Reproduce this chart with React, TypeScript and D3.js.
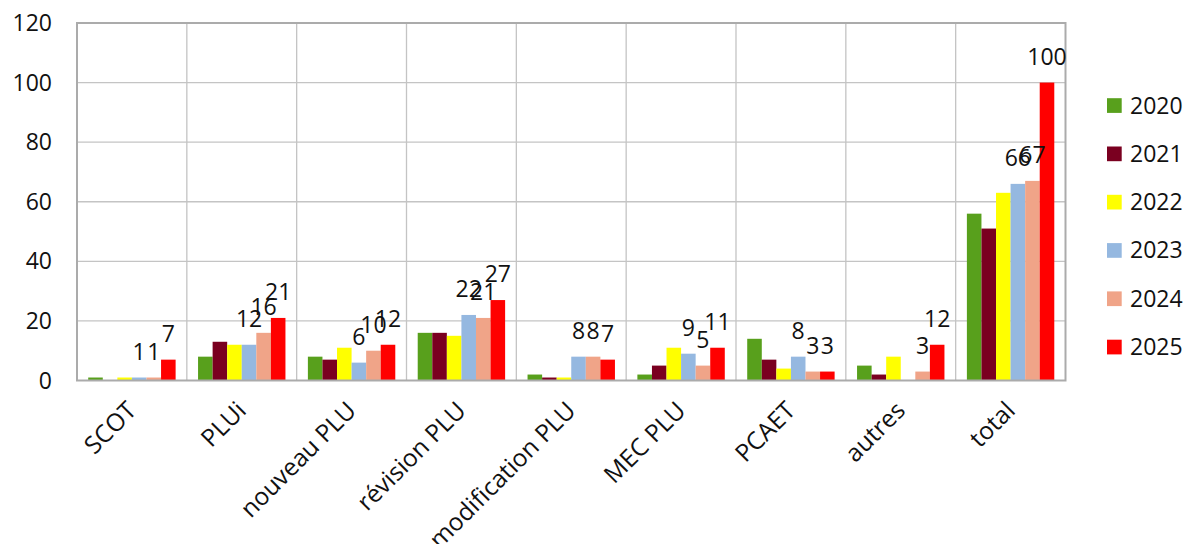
import { useEffect, useRef } from "react";
import * as d3 from "d3";

const categories = ["SCOT", "PLUi", "nouveau PLU", "révision PLU", "modification PLU", "MEC PLU", "PCAET", "autres", "total"];
const years = ["2020", "2021", "2022", "2023", "2024", "2025"];
const colors = ["#58a01c", "#7a0020", "#ffff00", "#95b8e0", "#f0a488", "#ff0000"];

const v2020 = [1, 8, 8, 16, 2, 2, 14, 5, 56];
const v2021 = [0, 13, 7, 16, 1, 5, 7, 2, 51];
const v2022 = [1, 12, 11, 15, 1, 11, 4, 8, 63];
const v2023 = [1, 12, 6, 22, 8, 9, 8, null, 66];
const v2024 = [1, 16, 10, 21, 8, 5, 3, 3, 67];
const v2025 = [7, 21, 12, 27, 7, 11, 3, 12, 100];

const labelledYears = ["2023", "2024", "2025"];
const yTicks = [0, 20, 40, 60, 80, 100, 120];

export default function App() {
  const ref = useRef<SVGSVGElement>(null);

  useEffect(() => {
    const series = [v2020, v2021, v2022, v2023, v2024, v2025];
    const W = 1189, H = 544;
    const plot = { left: 77, right: 1065.5, top: 23, bottom: 380.5 };
    const font = "'Open Sans', sans-serif";
    const fs = 23;

    const svg = d3.select(ref.current);
    svg.selectAll("*").remove();

    const x = d3.scaleBand().domain(categories).range([plot.left, plot.right]).padding(0);
    const xs = d3.scaleBand().domain(years).range([0, x.bandwidth()]).paddingInner(0).paddingOuter(0.77);
    const y = d3.scaleLinear().domain([0, 120]).range([plot.bottom, plot.top]);

    svg.append("rect").attr("width", W).attr("height", H).attr("fill", "#fff");

    // grid
    const grid = svg.append("g").attr("stroke", "#c4c4c4").attr("stroke-width", 1.3);
    yTicks.slice(1, -1).forEach(t => {
      grid.append("line").attr("x1", plot.left).attr("x2", plot.right).attr("y1", y(t)).attr("y2", y(t));
    });
    categories.slice(1).forEach(c => {
      const gx = x(c)!;
      grid.append("line").attr("x1", gx).attr("x2", gx).attr("y1", plot.top).attr("y2", plot.bottom);
    });

    // bars
    series.forEach((vals, si) => {
      svg.append("g")
        .selectAll("rect")
        .data(vals.map((v, i) => ({ v, c: categories[i] })).filter(d => d.v != null && d.v > 0))
        .enter()
        .append("rect")
        .attr("x", d => x(d.c)! + xs(years[si])!)
        .attr("width", xs.bandwidth())
        .attr("y", d => y(d.v as number))
        .attr("height", d => y(0) - y(d.v as number))
        .attr("fill", colors[si]);
    });

    // plot border
    svg.append("rect")
      .attr("x", plot.left).attr("y", plot.top)
      .attr("width", plot.right - plot.left).attr("height", plot.bottom - plot.top)
      .attr("fill", "none").attr("stroke", "#ababab").attr("stroke-width", 2);

    // data labels (2023-2025 only, as in the source chart)
    series.forEach((vals, si) => {
      if (!labelledYears.includes(years[si])) return;
      vals.forEach((v, i) => {
        if (v == null) return;
        svg.append("text")
          .attr("x", x(categories[i])! + xs(years[si])! + xs.bandwidth() / 2)
          .attr("y", y(v) - 18)
          .attr("text-anchor", "middle")
          .attr("font-family", font)
          .attr("font-size", fs)
          .attr("fill", "#111")
          .text(v);
      });
    });

    // y axis labels
    yTicks.forEach(t => {
      svg.append("text")
        .attr("x", 52).attr("y", y(t))
        .attr("dy", "0.35em")
        .attr("text-anchor", "end")
        .attr("font-family", font).attr("font-size", fs).attr("fill", "#111")
        .text(t);
    });

    // x axis labels
    categories.forEach(c => {
      const cx = x(c)! + x.bandwidth() / 2;
      svg.append("text")
        .attr("transform", `translate(${cx + 6},412) rotate(-45)`)
        .attr("text-anchor", "end")
        .attr("font-family", font).attr("font-size", 24.5).attr("fill", "#111")
        .text(c);
    });

    // legend
    const legend = svg.append("g").attr("transform", "translate(1107,105.5)");
    years.forEach((yr, i) => {
      const gy = i * 48.3;
      legend.append("rect").attr("x", 0).attr("y", gy - 7.3).attr("width", 14.7).attr("height", 14.7).attr("fill", colors[i]);
      legend.append("text")
        .attr("x", 23).attr("y", gy).attr("dy", "0.35em")
        .attr("font-family", font).attr("font-size", fs).attr("fill", "#111")
        .text(yr);
    });
  }, []);

  return <svg ref={ref} width={1189} height={544} style={{ position: "absolute", left: 0, top: 0 }} />;
}
